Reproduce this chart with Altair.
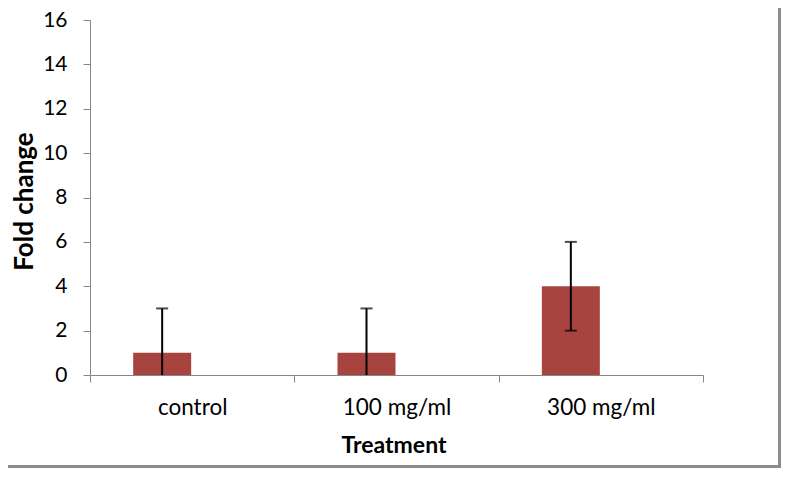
import altair as alt
import pandas as pd

categories = ["control", "100 mg/ml", "300 mg/ml"]
fold_change = [1, 1, 4]
errors = [2, 2, 2]

df = pd.DataFrame({"Treatment": categories, "Fold change": fold_change, "err": errors})

FONT = "Lato"
W, H = 613, 355
OFF = -30
PAD_R, PAD_B = 78, 93

x_enc = alt.X(
    "Treatment:N",
    sort=categories,
    scale=alt.Scale(paddingInner=0, paddingOuter=0),
    axis=alt.Axis(
        title="Treatment",
        labelAngle=0,
        tickBand="extent",
        domainColor="#868686",
        tickColor="#868686",
        tickSize=7,
        labelPadding=14,
        labelFontSize=22.5,
        labelFont=FONT,
        labelColor="#000000",
        titleFont=FONT,
        titleFontSize=23,
        titleFontWeight="bold",
        titleColor="#000000",
        titleX=W / 2 - 3,
        titleY=70,
        titleBaseline="middle",
    ),
)

y_scale = alt.Scale(domain=[0, 16], nice=False)

base = alt.Chart(df).transform_calculate(
    lo="max(0, datum['Fold change'] - datum.err)",
    hi="datum['Fold change'] + datum.err",
    rawlo="datum['Fold change'] - datum.err",
)

bars = base.mark_bar(size=58, color="#A8443F", xOffset=OFF).encode(
    x=x_enc,
    y=alt.Y(
        "Fold change:Q",
        scale=y_scale,
        axis=alt.Axis(
            title="Fold change",
            values=list(range(0, 17, 2)),
            grid=False,
            domainColor="#868686",
            tickColor="#868686",
            tickSize=7,
            labelPadding=16,
            labelFontSize=21,
            labelFont=FONT,
            labelColor="#000000",
            titleFont=FONT,
            titleFontSize=26,
            titleFontWeight="bold",
            titleColor="#000000",
            titleX=-66,
            titleY=181,
            titleAngle=-90,
            titleBaseline="middle",
        ),
    ),
)

rules = base.mark_rule(color="#000000", strokeWidth=2, xOffset=OFF).encode(
    x=alt.X("Treatment:N", sort=categories),
    y=alt.Y("lo:Q", scale=y_scale),
    y2="hi:Q",
)

top_caps = base.mark_tick(color="#000000", thickness=2, size=12, xOffset=OFF).encode(
    x=alt.X("Treatment:N", sort=categories),
    y=alt.Y("hi:Q", scale=y_scale),
)

bottom_caps = base.transform_filter("datum.rawlo >= 0").mark_tick(
    color="#000000", thickness=2, size=12, xOffset=OFF
).encode(
    x=alt.X("Treatment:N", sort=categories),
    y=alt.Y("rawlo:Q", scale=y_scale),
)

frame_right = alt.Chart(df).mark_rule(color="#8C8C8C", strokeWidth=3, clip=False).encode(
    x=alt.value(W + PAD_R - 1.5), y=alt.value(-30), y2=alt.value(H + PAD_B)
)
frame_bottom = alt.Chart(df).mark_rule(color="#8C8C8C", strokeWidth=3, clip=False).encode(
    y=alt.value(H + PAD_B - 1.5), x=alt.value(-100), x2=alt.value(W + PAD_R)
)

chart = alt.layer(bars, rules, top_caps, bottom_caps, frame_right, frame_bottom).properties(
    width=W,
    height=H,
    padding={"left": 82, "top": 12, "right": PAD_R, "bottom": PAD_B},
    autosize=alt.AutoSizeParams(type="none"),
    background="#FFFFFF",
).configure_view(stroke=None)

chart.save("out.html", embed_options={"renderer": "svg", "actions": False})
